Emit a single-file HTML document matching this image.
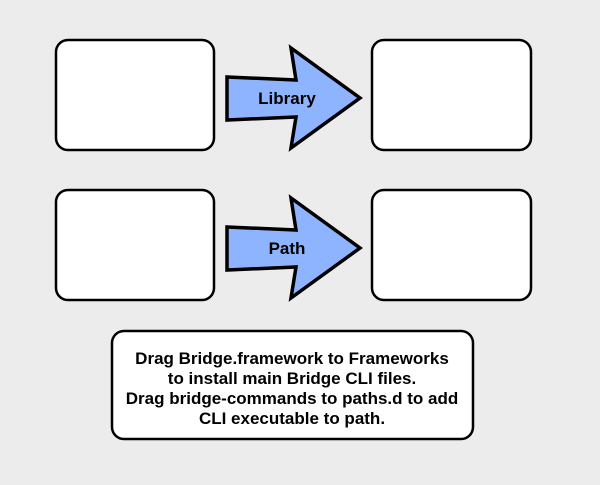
<!DOCTYPE html>
<html><head><style>
body{margin:0;width:600px;height:480px;background:#ececec;overflow:hidden}
</style></head><body>
<svg width="600" height="480" xmlns="http://www.w3.org/2000/svg">
<g fill="#fff" stroke="#000" stroke-width="2.5">
<rect x="56" y="40" width="158" height="110" rx="12"/>
<rect x="372" y="40" width="159" height="110" rx="12"/>
<rect x="56" y="190" width="158" height="110" rx="12"/>
<rect x="372" y="190" width="159" height="110" rx="12"/>
<rect x="112" y="331" width="361" height="108" rx="12"/>
</g>
<g fill="#8fb4ff" stroke="#000" stroke-width="3.5" stroke-linejoin="miter">
<polygon points="227,77 296,80 291,48 360,98 291,148 296,117 227,120"/>
<polygon points="227,227 296,230 291,198 360,248 291,298 296,267 227,270"/>
</g>
<g font-family="'Liberation Sans',Arial,sans-serif" font-weight="bold" text-anchor="middle" fill="#000">
<text x="287" y="104" font-size="17">Library</text>
<text x="287" y="254" font-size="17">Path</text>
<g font-size="17">
<text x="292" y="364">Drag Bridge.framework to Frameworks</text>
<text x="292" y="384">to install main Bridge CLI files.</text>
<text x="292" y="404">Drag bridge-commands to paths.d to add</text>
<text x="292" y="424">CLI executable to path.</text>
</g>
</g>
</svg>
</body></html>
